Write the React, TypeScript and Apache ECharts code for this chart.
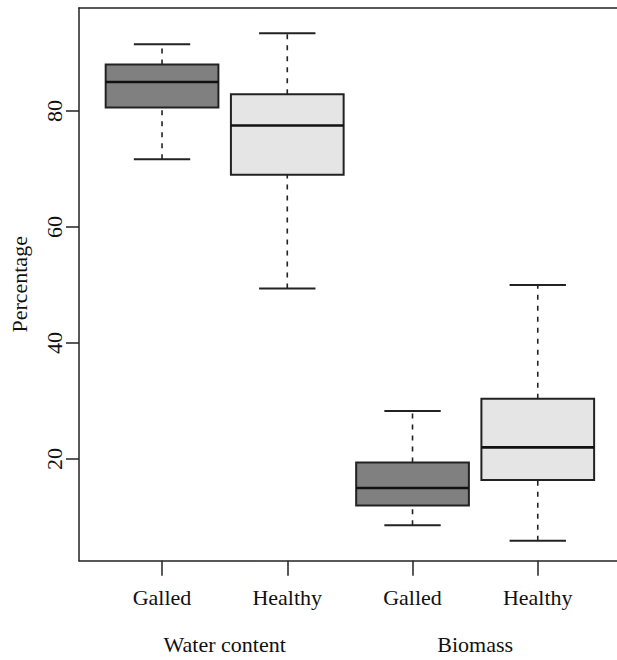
import React, { useEffect, useRef } from "react";
import * as echarts from "echarts";

const positions = [1, 2, 3, 4];
const subLabels = ["Galled", "Healthy", "Galled", "Healthy"];
const groupPositions = [1.5, 3.5];
const groupLabels = ["Water content", "Biomass"];
const mins = [71.7, 49.4, 8.6, 5.9];
const q1s = [80.6, 69.0, 12.0, 16.4];
const medians = [85.0, 77.5, 15.0, 22.0];
const q3s = [88.0, 82.9, 19.4, 30.4];
const maxs = [91.5, 93.4, 28.3, 50.0];
const fillKinds = [0, 1, 0, 1];
const yTicks = [20, 40, 60, 80];

const FILLS = ["#808080", "#e5e5e5"];
const INK = "#222222";
const FONT = "Liberation Serif";
const BOX_W = 0.9;
const CAP_W = 0.45;

export default function App() {
  const ref = useRef<HTMLDivElement>(null);
  useEffect(() => {
    if (!ref.current) return;
    const chart = echarts.init(ref.current, undefined, { renderer: "svg" });
    const data = positions.map((p, i) => [p, mins[i], q1s[i], medians[i], q3s[i], maxs[i], fillKinds[i]]);
    const xMin = 0.337;
    const xMax = 4.663;
    const frameLine = { show: true, onZero: false, lineStyle: { color: INK, width: 1.5 } };
    const labelValues = [...positions, ...groupPositions].sort((a, b) => a - b);
    chart.setOption({
      animation: false,
      backgroundColor: "#ffffff",
      grid: {
        left: 79,
        top: 8,
        width: 541.8,
        height: 552.7,
        show: false,
        containLabel: false,
        outerBoundsMode: "none",
      },
      xAxis: [
        {
          type: "value",
          min: xMin,
          max: xMax,
          position: "bottom",
          splitLine: { show: false },
          axisLine: frameLine,
          axisTick: {
            show: true,
            length: 15,
            customValues: positions,
            lineStyle: { color: INK, width: 1.5 },
          },
          axisLabel: {
            show: true,
            customValues: labelValues,
            margin: 26,
            hideOverlap: false,
            fontFamily: FONT,
            fontSize: 22,
            color: "#111",
            formatter: (v: number) => {
              const gi = groupPositions.findIndex((g) => Math.abs(g - v) < 1e-6);
              if (gi >= 0) return "{g|" + groupLabels[gi] + "}";
              const si = positions.findIndex((p) => Math.abs(p - v) < 1e-6);
              return si >= 0 ? subLabels[si] : "";
            },
            rich: {
              g: {
                padding: [47, 0, 0, 0],
                fontFamily: FONT,
                fontSize: 22,
                color: "#111",
              },
            },
          },
        },
        {
          type: "value",
          min: xMin,
          max: xMax,
          position: "top",
          gridIndex: 0,
          splitLine: { show: false },
          axisLine: frameLine,
          axisTick: { show: false },
          axisLabel: { show: false },
        },
      ],
      yAxis: {
        type: "value",
        min: 2.47,
        max: 97.76,
        name: "Percentage",
        nameLocation: "middle",
        nameGap: 49,
        nameTextStyle: { fontFamily: FONT, fontSize: 22, color: "#111" },
        splitLine: { show: false },
        axisLine: frameLine,
        axisTick: {
          show: true,
          length: 13,
          customValues: yTicks,
          lineStyle: { color: INK, width: 1.5 },
        },
        axisLabel: {
          show: true,
          customValues: yTicks,
          rotate: 90,
          margin: 14,
          fontFamily: FONT,
          fontSize: 22,
          color: "#111",
        },
      },
      series: [
        {
          type: "custom",
          xAxisIndex: 0,
          yAxisIndex: 0,
          data,
          encode: { x: 0, y: [1, 2, 3, 4, 5] },
          renderItem: (params: any, api: any) => {
            const x = api.value(0);
            const pMin = api.coord([x, api.value(1)]);
            const pQ1 = api.coord([x, api.value(2)]);
            const pMed = api.coord([x, api.value(3)]);
            const pQ3 = api.coord([x, api.value(4)]);
            const pMax = api.coord([x, api.value(5)]);
            const fill = FILLS[api.value(6)];
            const halfBox = api.size([BOX_W, 0])[0] / 2;
            const halfCap = api.size([CAP_W, 0])[0] / 2;
            const cx = pMed[0];
            const dash = { stroke: INK, lineWidth: 1.6, lineDash: [5, 6] };
            const solid = { stroke: INK, lineWidth: 2 };
            return {
              type: "group",
              children: [
                { type: "line", shape: { x1: cx, y1: pMin[1], x2: cx, y2: pQ1[1] }, style: dash },
                { type: "line", shape: { x1: cx, y1: pQ3[1], x2: cx, y2: pMax[1] }, style: dash },
                { type: "line", shape: { x1: cx - halfCap, y1: pMin[1], x2: cx + halfCap, y2: pMin[1] }, style: solid },
                { type: "line", shape: { x1: cx - halfCap, y1: pMax[1], x2: cx + halfCap, y2: pMax[1] }, style: solid },
                {
                  type: "rect",
                  shape: { x: cx - halfBox, y: pQ3[1], width: halfBox * 2, height: pQ1[1] - pQ3[1] },
                  style: { fill, stroke: INK, lineWidth: 2 },
                },
                {
                  type: "line",
                  shape: { x1: cx - halfBox, y1: pMed[1], x2: cx + halfBox, y2: pMed[1] },
                  style: { stroke: "#111", lineWidth: 2.6 },
                },
              ],
            };
          },
        },
      ],
    });
    return () => chart.dispose();
  }, []);
  return (
    <div
      ref={ref}
      style={{ position: "fixed", left: 0, top: 0, width: 617, height: 660, background: "#fff" }}
    />
  );
}
